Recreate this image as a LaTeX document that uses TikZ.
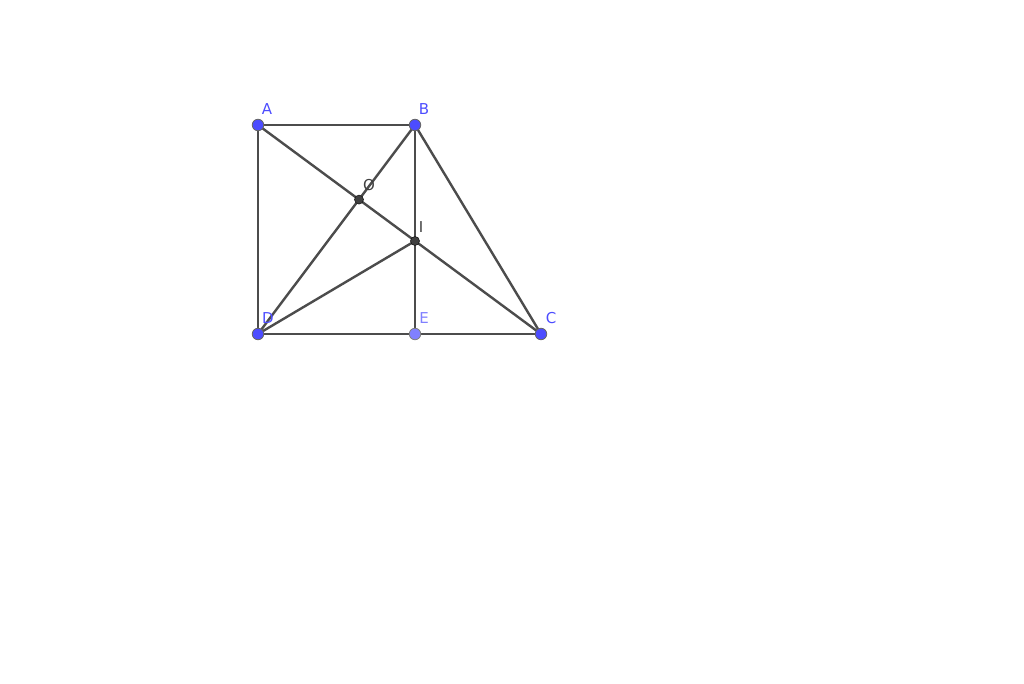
\documentclass[tikz,border=0pt]{standalone}
\usepackage{fontspec}
\setmainfont{DejaVu Sans}
\begin{document}
\begin{tikzpicture}[x=1pt,y=-1pt,
  seg/.style={draw=black!70,line width=2.4pt},
  bpt/.style={circle,fill=blue!70!white,draw=black!60,line width=0.8pt,inner sep=0pt,minimum size=11.5pt},
  ept/.style={circle,fill=blue!50!white,draw=black!50,line width=0.8pt,inner sep=0pt,minimum size=11.5pt},
  gpt/.style={circle,fill=black!75,draw=black!90,line width=0.6pt,inner sep=0pt,minimum size=9pt},
  blab/.style={text=blue!70!white,font=\fontsize{15}{15}\selectfont,inner sep=0pt},
  elab/.style={text=blue!50!white,font=\fontsize{15}{15}\selectfont,inner sep=0pt},
  glab/.style={text=black!75,font=\fontsize{15}{15}\selectfont,inner sep=0pt}]
\useasboundingbox (0,0) rectangle (1024,684);
\coordinate (A) at (258,125);
\coordinate (B) at (415,125);
\coordinate (D) at (258,334);
\coordinate (E) at (415,334);
\coordinate (C) at (541,334);
\coordinate (O) at (359,199.6);
\coordinate (I) at (415,241);
\draw[seg] (A) -- (B);
\draw[seg] (A) -- (D);
\draw[seg] (D) -- (E) -- (C);
\draw[seg] (B) -- (E);
\draw[seg] (B) -- (C);
\draw[seg] (A) -- (C);
\draw[seg] (B) -- (D);
\draw[seg] (D) -- (I);
\node[bpt] (nA) at (A) {};
\node[bpt] (nB) at (B) {};
\node[bpt] (nD) at (D) {};
\node[ept] (nE) at (E) {};
\node[bpt] (nC) at (C) {};
\node[gpt] (nO) at (O) {};
\node[gpt] (nI) at (I) {};
\node[blab] (lA) at (267,109) {A};
\node[blab] (lB) at (424,109) {B};
\node[blab] (lD) at (268,318) {D};
\node[elab] (lE) at (424,318) {E};
\node[blab] (lC) at (551,318) {C};
\node[glab] (lO) at (369,185) {O};
\node[glab] (lI) at (421,227) {I};
\end{tikzpicture}
\end{document}
